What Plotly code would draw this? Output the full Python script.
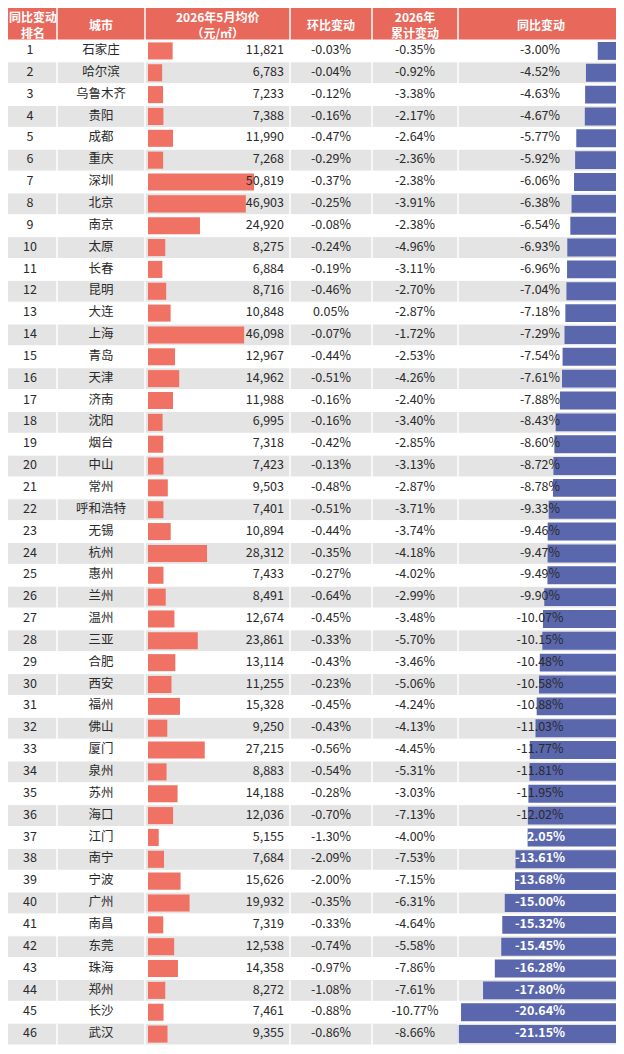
import plotly.graph_objects as go

ranks = list(range(1, 47))
cities = ["石家庄","哈尔滨","乌鲁木齐","贵阳","成都","重庆","深圳","北京","南京","太原","长春","昆明","大连","上海","青岛","天津","济南","沈阳","烟台","中山","常州","呼和浩特","无锡","杭州","惠州","兰州","温州","三亚","合肥","西安","福州","佛山","厦门","泉州","苏州","海口","江门","南宁","宁波","广州","南昌","东莞","珠海","郑州","长沙","武汉"]
price = [11821,6783,7233,7388,11990,7268,50819,46903,24920,8275,6884,8716,10848,46098,12967,14962,11988,6995,7318,7423,9503,7401,10894,28312,7433,8491,12674,23861,13114,11255,15328,9250,27215,8883,14188,12036,5155,7684,15626,19932,7319,12538,14358,8272,7461,9355]
mom = [-0.03,-0.04,-0.12,-0.16,-0.47,-0.29,-0.37,-0.25,-0.08,-0.24,-0.19,-0.46,0.05,-0.07,-0.44,-0.51,-0.16,-0.16,-0.42,-0.13,-0.48,-0.51,-0.44,-0.35,-0.27,-0.64,-0.45,-0.33,-0.43,-0.23,-0.45,-0.43,-0.56,-0.54,-0.28,-0.70,-1.30,-2.09,-2.00,-0.35,-0.33,-0.74,-0.97,-1.08,-0.88,-0.86]
cum = [-0.35,-0.92,-3.38,-2.17,-2.64,-2.36,-2.38,-3.91,-2.38,-4.96,-3.11,-2.70,-2.87,-1.72,-2.53,-4.26,-2.40,-3.40,-2.85,-3.13,-2.87,-3.71,-3.74,-4.18,-4.02,-2.99,-3.48,-5.70,-3.46,-5.06,-4.24,-4.13,-4.45,-5.31,-3.03,-7.13,-4.00,-7.53,-7.15,-6.31,-4.64,-5.58,-7.86,-7.61,-10.77,-8.66]
yoy = [-3.00,-4.52,-4.63,-4.67,-5.77,-5.92,-6.06,-6.38,-6.54,-6.93,-6.96,-7.04,-7.18,-7.29,-7.54,-7.61,-7.88,-8.43,-8.60,-8.72,-8.78,-9.33,-9.46,-9.47,-9.49,-9.90,-10.07,-10.15,-10.48,-10.58,-10.88,-11.03,-11.77,-11.81,-11.95,-12.02,-12.05,-13.61,-13.68,-15.00,-15.32,-15.45,-16.28,-17.80,-20.64,-21.15]
headers = ["同比变动<br>排名", "城市", "2026年5月均价<br>（元/㎡）", "环比变动", "2026年<br>累计变动", "同比变动"]

W, H = 624, 1054
PAD = 8
HEAD = 40
BOTTOM = 1045
ROW = (BOTTOM - HEAD) / 46
cols = [0, 57, 145, 290, 372, 458, 624]
ys = [HEAD + ROW * (i + 0.5) for i in range(46)]
FONT = "Noto Sans CJK SC"
RED, BLUE, HRED = "#f07264", "#5a67ad", "#e8695c"

fig = go.Figure()
fig.add_trace(go.Bar(orientation="h", y=ys, x=[W]*46, base=0, width=ROW,
                     marker=dict(color=["#ffffff" if i % 2 == 0 else "#e4e4e4" for i in range(46)], line_width=0),
                     hoverinfo="skip"))
pscale = 106 / 50819
fig.add_trace(go.Bar(orientation="h", y=ys, x=[p * pscale for p in price], base=148, width=ROW * 0.78,
                     marker=dict(color=RED, line_width=0), hoverinfo="skip"))
yscale = 7.75
fig.add_trace(go.Bar(orientation="h", y=ys, x=[v * yscale for v in yoy], base=621, width=ROW * 0.82,
                     marker=dict(color=BLUE, line_width=0), hoverinfo="skip"))

def txt(x, texts, pos="middle center", color="#2a2a2a", size=12.5):
    fig.add_trace(go.Scatter(x=[x]*len(texts), y=ys, mode="text", text=texts, textposition=pos,
                             textfont=dict(family=FONT, size=size, color=color), hoverinfo="skip"))

txt(30, [str(r) for r in ranks])
txt(101, cities)
txt(284, [f"{p:,}" for p in price], pos="middle left")
txt(331, [f"{v:.2f}%" for v in mom])
txt(415, [f"{v:.2f}%" for v in cum])
fig.add_trace(go.Scatter(x=[540]*46, y=ys, mode="text",
                         text=[(f"<b>{v:.2f}%</b>" if i >= 36 else f"{v:.2f}%") for i, v in enumerate(yoy)],
                         textfont=dict(family=FONT, size=12.5, color=["#ffffff" if i >= 36 else "#2a2a2a" for i in range(46)]),
                         hoverinfo="skip"))

shapes = [dict(type="rect", x0=0, x1=W, y0=0, y1=HEAD, fillcolor=HRED, line_width=0, layer="below")]
for c in cols[1:-1]:
    shapes.append(dict(type="line", x0=c, x1=c, y0=0, y1=H, line=dict(color="#ffffff", width=1.5)))
for i in range(47):
    y = HEAD + ROW * i
    shapes.append(dict(type="line", x0=0, x1=W, y0=y, y1=y, line=dict(color="#ffffff", width=1)))
hx = [(cols[k] + cols[k+1]) / 2 for k in range(6)]
hx[0] = 33
annotations = [dict(x=hx[k], y=HEAD / 2 + 4, text=f"<b>{h}</b>", showarrow=False,
                    font=dict(family=FONT, size=12, color="#ffffff"), xref="x", yref="y")
               for k, h in enumerate(headers)]

fig.update_layout(width=W - 2 * PAD, height=H - 2 * PAD, margin=dict(l=0, r=0, t=0, b=0), showlegend=False,
                  barmode="overlay", plot_bgcolor="#ffffff", paper_bgcolor="#ffffff",
                  shapes=shapes, annotations=annotations,
                  xaxis=dict(range=[PAD, W - PAD], visible=False, fixedrange=True),
                  yaxis=dict(range=[H - PAD, PAD], visible=False, fixedrange=True))
fig.write_html("out.html")
